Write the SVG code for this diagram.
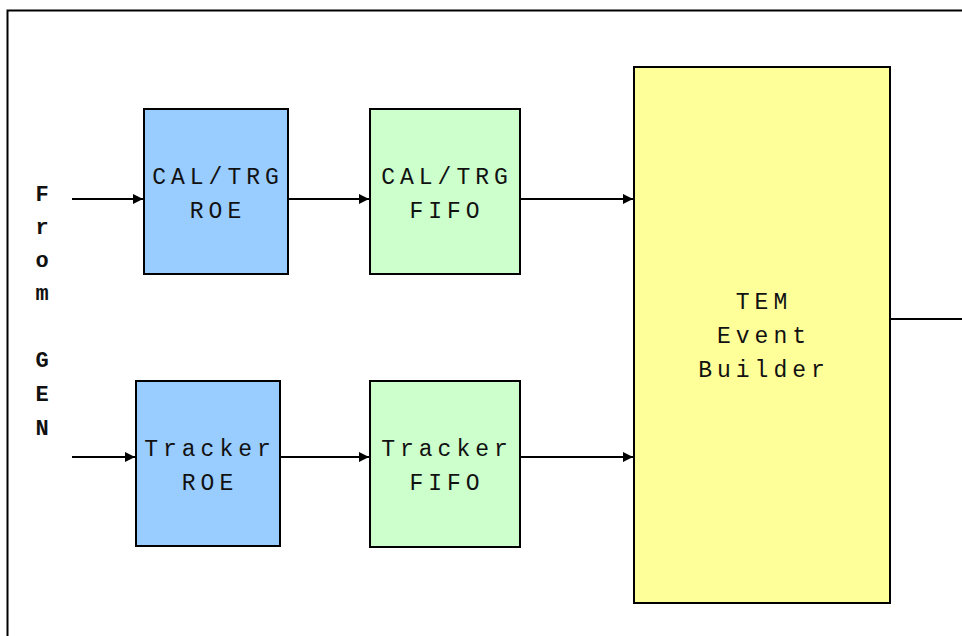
<svg xmlns="http://www.w3.org/2000/svg" width="962" height="636" viewBox="0 0 962 636">
<defs>
<marker id="ah" viewBox="0 0 10 10" refX="10" refY="5" markerWidth="10" markerHeight="10" markerUnits="userSpaceOnUse" orient="auto">
<path d="M0,0 L10,5 L0,10 z" fill="#000"/>
</marker>
</defs>
<style>
.box{stroke:#000;stroke-width:2}
.roe{fill:#99CCFF}
.fifo{fill:#CCFFCC}
.tem{fill:#FFFF99}
.lbl{font-family:"Liberation Mono","Courier New",monospace;font-size:23px;letter-spacing:5px;fill:#111;text-anchor:middle}
.gen{font-family:"Liberation Mono","Courier New",monospace;font-size:22px;font-weight:bold;fill:#111;text-anchor:middle}
.conn{stroke:#000;stroke-width:2;fill:none}
</style>
<rect x="0" y="0" width="962" height="636" fill="#fff"/>
<path d="M7.5,640 V10.5 H970" fill="none" stroke="#000" stroke-width="2"/>
<g id="from-gen">
<text class="gen" x="42" y="201">F</text>
<text class="gen" x="42" y="234">r</text>
<text class="gen" x="42" y="267">o</text>
<text class="gen" x="42" y="300">m</text>
<text class="gen" x="42" y="367">G</text>
<text class="gen" x="42" y="401">E</text>
<text class="gen" x="42" y="435">N</text>
</g>
<g id="cal-roe">
<rect class="box roe" x="144" y="109" width="144" height="165"/>
<text class="lbl" x="218" y="184">CAL/TRG</text>
<text class="lbl" x="218" y="218">ROE</text>
</g>
<g id="tracker-roe">
<rect class="box roe" x="136" y="381" width="144" height="165"/>
<text class="lbl" x="210" y="456">Tracker</text>
<text class="lbl" x="210" y="490">ROE</text>
</g>
<g id="cal-fifo">
<rect class="box fifo" x="370" y="109" width="150" height="165"/>
<text class="lbl" x="447" y="184">CAL/TRG</text>
<text class="lbl" x="447" y="218">FIFO</text>
</g>
<g id="tracker-fifo">
<rect class="box fifo" x="370" y="381" width="150" height="166"/>
<text class="lbl" x="447" y="456">Tracker</text>
<text class="lbl" x="447" y="490">FIFO</text>
</g>
<g id="tem">
<rect class="box tem" x="634" y="67" width="256" height="536"/>
<text class="lbl" x="764" y="309">TEM</text>
<text class="lbl" x="764" y="343">Event</text>
<text class="lbl" x="764" y="377">Builder</text>
</g>
<g id="connectors">
<line class="conn" x1="72" y1="199" x2="143" y2="199" marker-end="url(#ah)"/>
<line class="conn" x1="289" y1="199" x2="369" y2="199" marker-end="url(#ah)"/>
<line class="conn" x1="521" y1="199" x2="633" y2="199" marker-end="url(#ah)"/>
<line class="conn" x1="72" y1="457" x2="135" y2="457" marker-end="url(#ah)"/>
<line class="conn" x1="281" y1="457" x2="369" y2="457" marker-end="url(#ah)"/>
<line class="conn" x1="521" y1="457" x2="633" y2="457" marker-end="url(#ah)"/>
<line class="conn" x1="891" y1="319" x2="962" y2="319"/>
</g>
</svg>
